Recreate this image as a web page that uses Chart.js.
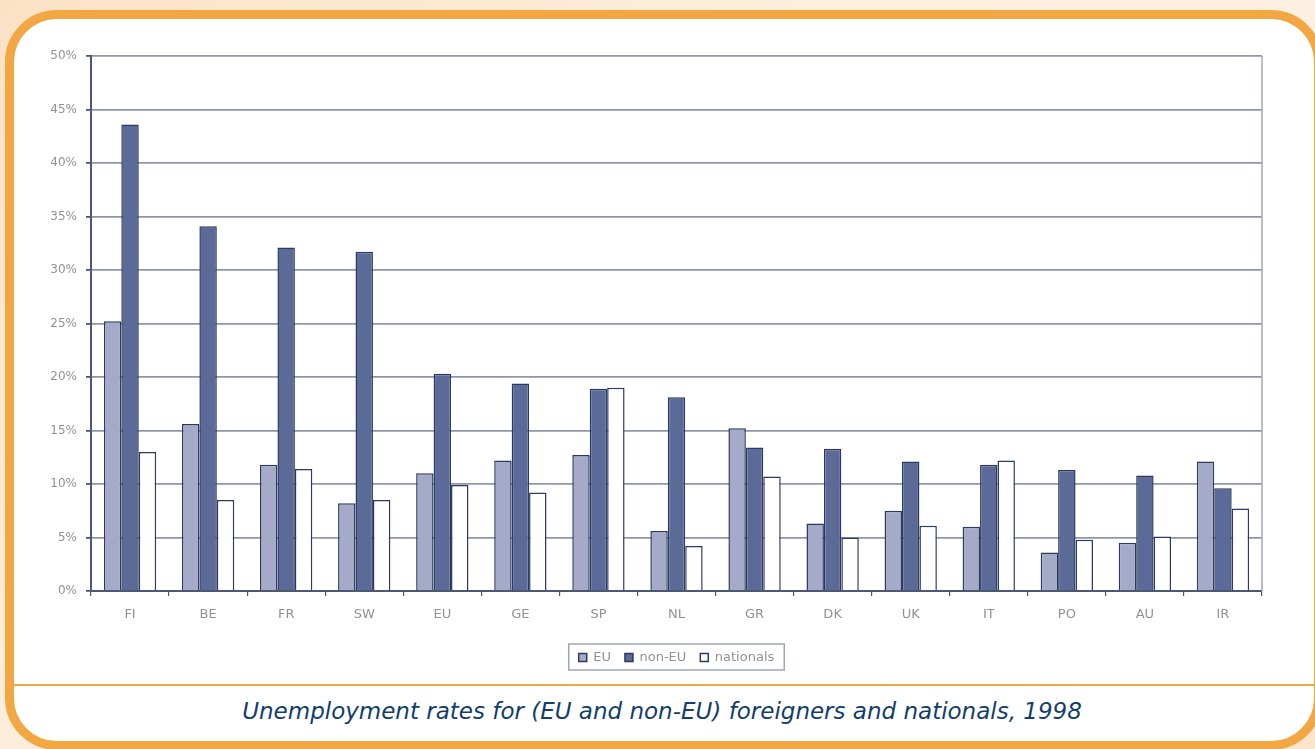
<!DOCTYPE html>
<html>
<head>
<meta charset="utf-8">
<script src="https://cdn.jsdelivr.net/npm/chart.js@4"></script>
<style>
  html, body { margin:0; padding:0; }
  body { width:1315px; height:749px; overflow:hidden; position:relative;
         background: linear-gradient(135deg, #fbe2c6 0%, #fdeedd 40%, #fdf0e2 70%, #fbe4ca 100%); }
  #frame { position:absolute; left:5px; top:10px; width:1300px; height:722px;
           border:9px solid #f2a742; border-radius:52px; background:#fff; }
  #sep { position:absolute; left:14px; top:684px; width:1310px; height:2px; background:#f2a742; }
  #caption { position:absolute; left:0px; top:698px; width:1324px; text-align:center;
             font-family:"DejaVu Sans", sans-serif; font-style:italic; font-size:23px;
             color:#123d6c; white-space:nowrap; }
  #wrap { position:absolute; left:20px; top:30px; width:1270px; height:650px; }
</style>
</head>
<body>
<div id="frame"></div>
<div id="sep"></div>
<div id="caption">Unemployment rates for (EU and non-EU) foreigners and nationals, 1998</div>
<div id="wrap"><canvas id="c" width="1270" height="650"></canvas></div>
<script>
const categories = ["FI","BE","FR","SW","EU","GE","SP","NL","GR","DK","UK","IT","PO","AU","IR"];
const euForeigners    = [25.2, 15.6, 11.8, 8.2, 11.0, 12.2, 12.7, 5.6, 15.2, 6.3, 7.5, 6.0, 3.6, 4.5, 12.1];
const nonEuForeigners = [43.6, 34.1, 32.1, 31.7, 20.3, 19.4, 18.9, 18.1, 13.4, 13.3, 12.1, 11.8, 11.3, 10.8, 9.6];
const nationals       = [13.0, 8.5, 11.4, 8.5, 9.9, 9.2, 19.0, 4.2, 10.7, 5.0, 6.1, 12.2, 4.8, 5.1, 7.7];
const seriesNames = ["EU", "non-EU", "nationals"];
const yTicks = [0,5,10,15,20,25,30,35,40,45,50];

const FONT = '"DejaVu Sans", Verdana, sans-serif';
const labelGrey = '#929292';

// centre the legend under the plot area and frame it
const legendBox = {
  id: 'legendBox',
  afterUpdate(chart) {
    const lg = chart.legend;
    if (!lg) return;
    const ca = chart.chartArea;
    const target = (ca.left + ca.right) / 2;
    const dx = target - (lg.left + lg.right) / 2;
    lg.left += dx; lg.right += dx;
  },
  afterDraw(chart) {
    const lg = chart.legend;
    const ctx = chart.ctx;
    ctx.save();
    if (lg && lg.legendHitBoxes && lg.legendHitBoxes.length) {
      const hb = lg.legendHitBoxes;
      let l = Math.min(...hb.map(b=>b.left)), r = Math.max(...hb.map(b=>b.left+b.width));
      let t = Math.min(...hb.map(b=>b.top)), bt = Math.max(...hb.map(b=>b.top+b.height));
      const w = r - l;
      const cx = (lg.left + lg.right) / 2;
      ctx.strokeStyle = '#a0a5b6';
      ctx.lineWidth = 1.5;
      ctx.strokeRect(cx - w / 2 - 10, t - 7, w + 20, (bt - t) + 13);
    }
    const ca = chart.chartArea;
    ctx.strokeStyle = '#a4a9b8';
    ctx.lineWidth = 1.5;
    ctx.beginPath();
    ctx.moveTo(ca.right, ca.top);
    ctx.lineTo(ca.right, ca.bottom);
    ctx.stroke();
    ctx.restore();
  }
};

const border = '#2c3a62';
new Chart(document.getElementById('c'), {
  type: 'bar',
  data: {
    labels: categories,
    datasets: [
      { label: seriesNames[0], data: euForeigners, backgroundColor: '#a4aac8', borderColor: border, borderWidth: 1.5 },
      { label: seriesNames[1], data: nonEuForeigners, backgroundColor: '#5b6a97', borderColor: border, borderWidth: 1.5 },
      { label: seriesNames[2], data: nationals, backgroundColor: '#ffffff', borderColor: border, borderWidth: 1.5 }
    ]
  },
  options: {
    responsive: false,
    animation: false,
    layout: { padding: { top: 26, right: 28, left: 0, bottom: 6 } },
    datasets: { bar: { categoryPercentage: 0.67, barPercentage: 1.0 } },
    plugins: {
      tooltip: { enabled: false },
      legend: {
        position: 'bottom',
        labels: {
          boxWidth: 8, boxHeight: 8, padding: 14,
          color: labelGrey,
          font: { family: FONT, size: 13 },
          generateLabels(chart) {
            return chart.data.datasets.map((d, i) => ({
              text: d.label, fillStyle: d.backgroundColor, strokeStyle: border,
              lineWidth: 1.5, hidden: false, datasetIndex: i, fontColor: labelGrey
            }));
          }
        }
      }
    },
    scales: {
      y: {
        min: 0, max: 50,
        afterFit(s) { s.width = 71; },
        afterBuildTicks(s) { s.ticks = yTicks.map(v => ({ value: v })); },
        ticks: {
          callback: v => v + '%',
          color: labelGrey, padding: 9,
          font: { family: FONT, size: 12 }
        },
        grid: { color: '#8e96ab', lineWidth: 1.8, tickLength: 5, tickColor: '#4d5874' },
        border: { display: true, color: '#4d5874', width: 2 }
      },
      x: {
        afterFit(s) { s.height = 46; },
        ticks: {
          color: labelGrey, padding: 11,
          font: { family: FONT, size: 13 }
        },
        grid: { display: true, drawOnChartArea: false, tickLength: 5, tickColor: '#4d5874', lineWidth: 1.2 },
        border: { display: true, color: '#4d5874', width: 2 }
      }
    }
  },
  plugins: [legendBox]
});
</script>
</body>
</html>
